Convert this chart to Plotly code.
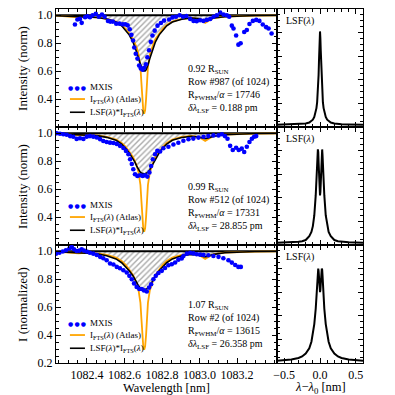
import plotly.graph_objects as go
from plotly.subplots import make_subplots

# --- FTS atlas (same for every row) on a non-uniform wavelength grid [nm]
fts_wl = [1082.235, 1082.295, 1082.355, 1082.395, 1082.455, 1082.505, 1082.555, 1082.585,
          1082.605, 1082.625, 1082.645, 1082.655, 1082.665, 1082.675, 1082.685, 1082.690,
          1082.695, 1082.700, 1082.705, 1082.710, 1082.715, 1082.720, 1082.725, 1082.735,
          1082.745, 1082.755, 1082.765, 1082.785, 1082.805, 1082.825, 1082.855, 1082.905,
          1082.955, 1082.995, 1083.015, 1083.030, 1083.045, 1083.075, 1083.135, 1083.215,
          1083.295, 1083.413]
fts_int = [0.998, 0.993, 0.986, 0.989, 0.985, 0.975, 0.955, 0.930,
           0.905, 0.870, 0.830, 0.800, 0.770, 0.720, 0.630, 0.520,
           0.400, 0.320, 0.295, 0.320, 0.400, 0.520, 0.630, 0.720,
           0.770, 0.800, 0.830, 0.870, 0.905, 0.930, 0.955, 0.975,
           0.982, 0.975, 0.955, 0.945, 0.958, 0.980, 0.990, 0.995,
           0.998, 1.000]

# --- LSF * FTS for each row (same grid)
conv_top = [0.997, 0.993, 0.988, 0.988, 0.984, 0.973, 0.952, 0.925,
            0.895, 0.860, 0.810, 0.775, 0.735, 0.690, 0.645, 0.625,
            0.610, 0.602, 0.600, 0.602, 0.610, 0.625, 0.645, 0.690,
            0.735, 0.775, 0.810, 0.860, 0.895, 0.925, 0.952, 0.972,
            0.980, 0.976, 0.968, 0.964, 0.968, 0.980, 0.990, 0.995,
            0.998, 1.000]
conv_mid = [0.997, 0.993, 0.988, 0.988, 0.983, 0.971, 0.950, 0.922,
            0.895, 0.860, 0.820, 0.795, 0.765, 0.740, 0.720, 0.715,
            0.712, 0.710, 0.710, 0.710, 0.712, 0.715, 0.720, 0.740,
            0.765, 0.795, 0.820, 0.860, 0.895, 0.922, 0.950, 0.970,
            0.978, 0.974, 0.966, 0.962, 0.966, 0.979, 0.990, 0.995,
            0.998, 1.000]
conv_bot = [0.997, 0.993, 0.988, 0.988, 0.982, 0.968, 0.945, 0.918,
            0.890, 0.860, 0.825, 0.800, 0.775, 0.752, 0.737, 0.732,
            0.728, 0.726, 0.725, 0.726, 0.728, 0.732, 0.737, 0.752,
            0.775, 0.800, 0.825, 0.860, 0.890, 0.918, 0.945, 0.968,
            0.977, 0.973, 0.965, 0.960, 0.964, 0.978, 0.990, 0.995,
            0.998, 1.000]

# --- MXIS measurements
mxis_top_wl = [1082.336, 1082.349, 1082.363, 1082.372, 1082.390, 1082.402, 1082.416, 1082.430,
               1082.447, 1082.463, 1082.480, 1082.494, 1082.512, 1082.524, 1082.538, 1082.556,
               1082.573, 1082.591, 1082.604, 1082.617, 1082.628, 1082.637, 1082.646, 1082.652,
               1082.660, 1082.669, 1082.678, 1082.687, 1082.696, 1082.705, 1082.714, 1082.722,
               1082.731, 1082.740, 1082.749, 1082.761, 1082.776, 1082.794, 1082.811, 1082.838,
               1082.856, 1082.874, 1082.894, 1082.912, 1082.930, 1082.950, 1082.968, 1082.985,
               1083.003, 1083.021, 1083.039, 1083.057, 1083.075, 1083.092, 1083.110, 1083.128,
               1083.145, 1083.158, 1083.172, 1083.181, 1083.195, 1083.207, 1083.219, 1083.238,
               1083.252, 1083.266, 1083.284, 1083.302, 1083.319, 1083.337, 1083.355, 1083.368,
               1083.384]
mxis_top = [0.934, 0.970, 0.974, 0.946, 0.986, 0.993, 0.986, 1.000,
            1.010, 0.990, 1.005, 0.990, 0.960, 0.955, 0.955, 0.940,
            0.940, 0.935, 0.935, 0.928, 0.900, 0.860, 0.820, 0.770,
            0.725, 0.690, 0.640, 0.620, 0.610, 0.625, 0.650, 0.700,
            0.750, 0.810, 0.855, 0.890, 0.926, 0.945, 0.962, 0.970,
            0.985, 0.990, 1.000, 0.990, 0.995, 0.974, 0.960, 0.958,
            0.965, 0.960, 0.967, 0.974, 0.990, 1.000, 1.020, 1.005,
            1.000, 0.990, 0.926, 0.905, 0.855, 0.790, 0.800, 0.880,
            0.895, 0.938, 0.960, 0.967, 0.960, 0.934, 0.915, 0.905,
            0.870]

mxis_mid_wl = [1082.239, 1082.256, 1082.274, 1082.292, 1082.310, 1082.327, 1082.345, 1082.363,
               1082.381, 1082.399, 1082.416, 1082.434, 1082.452, 1082.470, 1082.487, 1082.505,
               1082.523, 1082.541, 1082.559, 1082.576, 1082.594, 1082.608, 1082.621, 1082.630,
               1082.639, 1082.647, 1082.656, 1082.669, 1082.683, 1082.697, 1082.710, 1082.722,
               1082.733, 1082.742, 1082.751, 1082.763, 1082.775, 1082.790, 1082.807, 1082.834,
               1082.861, 1082.887, 1082.914, 1082.941, 1082.967, 1082.994, 1083.021, 1083.047,
               1083.074, 1083.101, 1083.119, 1083.135, 1083.149, 1083.163, 1083.177, 1083.195,
               1083.209, 1083.225, 1083.238, 1083.252, 1083.266, 1083.279, 1083.291, 1083.302]
mxis_mid = [1.000, 0.997, 0.993, 0.990, 0.980, 0.975, 0.960, 0.965,
            0.960, 0.976, 0.980, 0.976, 0.970, 0.958, 0.945, 0.938,
            0.933, 0.930, 0.924, 0.910, 0.895, 0.874, 0.850, 0.814,
            0.780, 0.743, 0.707, 0.695, 0.700, 0.695, 0.700, 0.690,
            0.720, 0.766, 0.814, 0.850, 0.874, 0.870, 0.893, 0.904,
            0.920, 0.932, 0.947, 0.957, 0.962, 0.969, 0.975, 0.980,
            0.985, 0.985, 0.993, 0.980, 0.961, 0.910, 0.880, 0.897,
            0.880, 0.890, 0.866, 0.904, 0.938, 0.961, 0.975, 0.980]

mxis_bot_wl = [1082.235, 1082.253, 1082.271, 1082.288, 1082.306, 1082.319, 1082.331, 1082.345,
               1082.359, 1082.372, 1082.384, 1082.399, 1082.416, 1082.434, 1082.452, 1082.470,
               1082.487, 1082.505, 1082.523, 1082.541, 1082.559, 1082.576, 1082.594, 1082.612,
               1082.626, 1082.639, 1082.651, 1082.665, 1082.679, 1082.692, 1082.704, 1082.719,
               1082.731, 1082.742, 1082.754, 1082.767, 1082.781, 1082.799, 1082.816, 1082.834,
               1082.852, 1082.870, 1082.887, 1082.905, 1082.914, 1082.932, 1082.950, 1082.967,
               1082.985, 1083.003, 1083.021, 1083.047, 1083.074, 1083.101, 1083.127, 1083.154,
               1083.172, 1083.190, 1083.207, 1083.220]
mxis_bot = [0.983, 0.990, 0.998, 1.007, 1.020, 1.030, 1.014, 1.002,
            1.005, 1.014, 1.005, 0.998, 0.990, 0.983, 0.974, 0.960,
            0.950, 0.936, 0.912, 0.905, 0.888, 0.878, 0.864, 0.848,
            0.824, 0.800, 0.770, 0.745, 0.730, 0.730, 0.720, 0.712,
            0.740, 0.764, 0.800, 0.824, 0.845, 0.860, 0.880, 0.900,
            0.907, 0.920, 0.940, 0.948, 0.966, 0.983, 0.990, 0.985,
            0.979, 0.976, 0.974, 0.972, 0.966, 0.960, 0.950, 0.936,
            0.919, 0.902, 0.888, 0.888]

# --- line spread functions (right column)
lsf_dl = [-0.6, -0.5, -0.4, -0.3, -0.25, -0.2, -0.15, -0.12, -0.1, -0.08, -0.06,
          -0.05, -0.04, -0.035, -0.03, -0.025, -0.02, -0.015, -0.01, -0.005, 0.0,
          0.005, 0.01, 0.015, 0.02, 0.025, 0.03, 0.035, 0.04, 0.05, 0.06,
          0.08, 0.1, 0.12, 0.15, 0.2, 0.25, 0.3, 0.4, 0.5, 0.6]
lsf_top = [0.020, 0.021, 0.022, 0.024, 0.026, 0.030, 0.038, 0.050, 0.062, 0.085, 0.125,
           0.160, 0.210, 0.250, 0.290, 0.350, 0.440, 0.550, 0.650, 0.750, 0.810,
           0.750, 0.650, 0.550, 0.440, 0.350, 0.290, 0.250, 0.210, 0.160, 0.125,
           0.085, 0.062, 0.050, 0.038, 0.030, 0.026, 0.024, 0.022, 0.021, 0.020]
lsf_mid = [0.020, 0.021, 0.023, 0.027, 0.032, 0.042, 0.075, 0.110, 0.160, 0.250, 0.420,
           0.540, 0.680, 0.760, 0.810, 0.790, 0.700, 0.600, 0.520, 0.450, 0.420,
           0.450, 0.520, 0.600, 0.700, 0.790, 0.810, 0.760, 0.680, 0.540, 0.420,
           0.250, 0.160, 0.110, 0.075, 0.042, 0.032, 0.027, 0.023, 0.021, 0.020]
lsf_bot = [0.020, 0.024, 0.030, 0.042, 0.055, 0.080, 0.125, 0.180, 0.240, 0.330, 0.460,
           0.550, 0.670, 0.740, 0.790, 0.800, 0.780, 0.730, 0.670, 0.620, 0.600,
           0.620, 0.670, 0.730, 0.780, 0.800, 0.790, 0.740, 0.670, 0.550, 0.460,
           0.330, 0.240, 0.180, 0.125, 0.080, 0.055, 0.042, 0.030, 0.024, 0.020]

wl_ticks = [1082.4, 1082.6, 1082.8, 1083.0, 1083.2]

info_top = ["0.92 R<sub>SUN</sub>", "Row #987 (of 1024)",
            "R<sub>FWHM</sub>/<i>α</i> = 17746", "<i>δλ</i><sub>LSF</sub> = 0.188 pm"]
info_mid = ["0.99 R<sub>SUN</sub>", "Row #512 (of 1024)",
            "R<sub>FWHM</sub>/<i>α</i> = 17331", "<i>δλ</i><sub>LSF</sub> = 28.855 pm"]
info_bot = ["1.07 R<sub>SUN</sub>", "Row #2 (of 1024)",
            "R<sub>FWHM</sub>/<i>α</i> = 13615", "<i>δλ</i><sub>LSF</sub> = 26.358 pm"]

legend_labels = ["MXIS", "I<sub>FTS</sub>(<i>λ</i>) (Atlas)",
                 "LSF(<i>λ</i>)*I<sub>FTS</sub>(<i>λ</i>)"]

SERIF = "Liberation Serif"
ORANGE = "#ffa500"
BLUE = "#0000ff"

rows = [
    (conv_top, mxis_top_wl, mxis_top, lsf_top, info_top, "Intensity (norm)"),
    (conv_mid, mxis_mid_wl, mxis_mid, lsf_mid, info_mid, "Intensity (norm)"),
    (conv_bot, mxis_bot_wl, mxis_bot, lsf_bot, info_bot, "I (normalized)"),
]

fig = make_subplots(rows=3, cols=2, column_widths=[0.72, 0.28],
                    horizontal_spacing=0, vertical_spacing=0)

annotations = []
shapes = []
for i, (conv, mwl, mval, lsf, info, ytitle) in enumerate(rows):
    r = i + 1
    xa = "x" if r == 1 else "x%d" % (2 * r - 1)
    ya = "y" if r == 1 else "y%d" % (2 * r - 1)
    xa2 = "x%d" % (2 * r)
    ya2 = "y%d" % (2 * r)

    # continuum at 1.0
    fig.add_trace(go.Scatter(x=[fts_wl[0], fts_wl[-1]], y=[1.0, 1.0], mode="lines",
                             line=dict(color="black", width=2), showlegend=False,
                             hoverinfo="skip"), row=r, col=1)
    # hatched area between continuum and convolved profile
    fig.add_trace(go.Scatter(x=fts_wl, y=conv, mode="lines", line=dict(width=0),
                             fill="tonexty", fillcolor="rgba(255,255,255,0)",
                             fillpattern=dict(shape="/", fgcolor="#555555",
                                              bgcolor="rgba(255,255,255,0)",
                                              size=4, solidity=0.35),
                             showlegend=False, hoverinfo="skip"), row=r, col=1)
    fig.add_trace(go.Scatter(x=fts_wl, y=fts_int, mode="lines",
                             line=dict(color=ORANGE, width=1.8), showlegend=False),
                  row=r, col=1)
    fig.add_trace(go.Scatter(x=fts_wl, y=conv, mode="lines",
                             line=dict(color="black", width=1.6), showlegend=False),
                  row=r, col=1)
    fig.add_trace(go.Scatter(x=mwl, y=mval, mode="markers",
                             marker=dict(color=BLUE, size=4.6), showlegend=False),
                  row=r, col=1)
    fig.add_trace(go.Scatter(x=lsf_dl, y=lsf, mode="lines",
                             line=dict(color="black", width=2), showlegend=False),
                  row=r, col=2)

    # info text block
    for txt, yy in zip(info, [0.485, 0.38, 0.268, 0.155]):
        annotations.append(dict(text=txt, xref=xa + " domain", yref=ya + " domain",
                                x=0.59, y=yy, xanchor="left", yanchor="middle",
                                showarrow=False, font=dict(family=SERIF, size=10, color="black")))

    # hand-made legend
    ly = [0.337, 0.237, 0.125]
    annotations.append(dict(text="●\u2009●\u2009●", xref=xa + " domain", yref=ya + " domain",
                            x=0.097, y=ly[0], xanchor="center", yanchor="middle",
                            showarrow=False, font=dict(family="DejaVu Sans", size=6, color=BLUE)))
    shapes.append(dict(type="line", xref=xa + " domain", yref=ya + " domain",
                       x0=0.063, x1=0.131, y0=ly[1], y1=ly[1],
                       line=dict(color=ORANGE, width=1.8)))
    shapes.append(dict(type="line", xref=xa + " domain", yref=ya + " domain",
                       x0=0.063, x1=0.131, y0=ly[2], y1=ly[2],
                       line=dict(color="black", width=1.6)))
    for lab, yy in zip(legend_labels, ly):
        annotations.append(dict(text=lab, xref=xa + " domain", yref=ya + " domain",
                                x=0.145, y=yy, xanchor="left", yanchor="middle",
                                showarrow=False, font=dict(family=SERIF, size=9, color="black")))

    annotations.append(dict(text="LSF(<i>λ</i>)", xref=xa2 + " domain", yref=ya2 + " domain",
                            x=0.08, y=0.9, xanchor="left", yanchor="middle",
                            showarrow=False, font=dict(family=SERIF, size=10, color="black")))

    # y-axis title as rotated text left of the panel
    annotations.append(dict(text=ytitle, xref="paper", yref=ya + " domain",
                            x=-0.111, y=0.5, xanchor="center", yanchor="middle",
                            textangle=-90, showarrow=False,
                            font=dict(family=SERIF, size=13, color="black")))

    axis_common = dict(showline=True, linecolor="black", linewidth=1.3, mirror="allticks",
                       ticks="inside", ticklen=5, tickwidth=1, tickcolor="black",
                       showgrid=False, zeroline=False,
                       tickfont=dict(family=SERIF, size=12, color="black"))
    fig.update_xaxes(axis_common, range=[1082.235, 1083.413], tickmode="array",
                     tickvals=wl_ticks, tickformat=".1f", showticklabels=(r == 3),
                     minor=dict(ticks="inside", ticklen=3, tickmode="linear",
                                tick0=1082.25, dtick=0.05, tickcolor="black"),
                     row=r, col=1)
    fig.update_yaxes(axis_common, range=[0.2 if r == 3 else 0.2005, 1.045], tick0=0.2, dtick=0.2,
                     tickformat=".1f",
                     minor=dict(ticks="inside", ticklen=3, dtick=0.05, tickcolor="black"),
                     row=r, col=1)
    fig.update_xaxes(axis_common, range=[-0.6, 0.6], tick0=0, dtick=0.5, tickformat=".1f",
                     showticklabels=(r == 3),
                     minor=dict(ticks="inside", ticklen=3, dtick=0.1, tickcolor="black"),
                     row=r, col=2)
    fig.update_yaxes(axis_common, range=[0, 1.0], dtick=0.2, showticklabels=False,
                     minor=dict(ticks="inside", ticklen=3, dtick=0.05, tickcolor="black"),
                     row=r, col=2)

# x-axis titles placed just under the tick labels
annotations.append(dict(text="Wavelength [nm]", xref="x5 domain", yref="paper",
                        x=0.5, y=-0.071, xanchor="center", yanchor="middle", showarrow=False,
                        font=dict(family=SERIF, size=12.5, color="black")))
annotations.append(dict(text="<i>λ</i>−<i>λ</i><sub>0</sub> [nm]", xref="x6 domain", yref="paper",
                        x=0.5, y=-0.071, xanchor="center", yanchor="middle", showarrow=False,
                        font=dict(family=SERIF, size=12.5, color="black")))

fig.update_layout(width=395, height=395, margin=dict(l=56, r=32, t=9, b=32),
                  paper_bgcolor="white", plot_bgcolor="white", showlegend=False,
                  annotations=annotations, shapes=shapes)

# drop the browser's default 8px page margin so the figure sits at (0, 0)
fig.write_html("out.html", config={"displayModeBar": False},
               post_script="document.body.style.margin='0';")
